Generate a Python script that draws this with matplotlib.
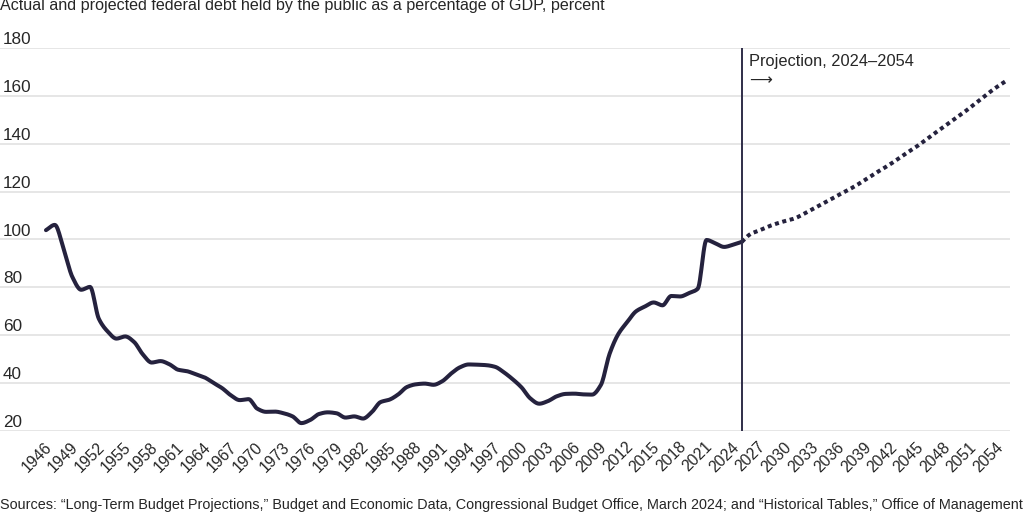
import numpy as np
import matplotlib
matplotlib.use("Agg")
import matplotlib.pyplot as plt
import matplotlib.transforms as mtransforms

plt.rcParams['font.family'] = ['Liberation Sans', 'DejaVu Sans']

# ---------------- data ----------------
hist_years = list(range(1945, 2025))
hist_debt = [103.9, 106.1, 96.2, 84.3, 79.0, 80.2, 66.9, 61.6, 58.6, 59.5,
             57.2, 52.0, 48.6, 49.2, 47.9, 45.6, 45.0, 43.7, 42.4, 40.1,
             37.9, 34.9, 32.9, 33.3, 29.3, 28.0, 28.1, 27.4, 26.1, 23.3,
             24.6, 27.1, 27.8, 27.4, 25.6, 26.1, 25.2, 27.9, 32.1, 33.1,
             35.3, 38.4, 39.5, 39.8, 39.3, 40.8, 44.0, 46.6, 47.8, 47.7,
             47.5, 46.8, 44.5, 41.6, 38.2, 33.6, 31.4, 32.5, 34.5, 35.5,
             35.6, 35.3, 35.2, 39.2, 52.3, 60.6, 65.5, 70.0, 72.0, 73.7,
             72.5, 76.4, 76.2, 77.6, 79.4, 99.8, 98.4, 96.9, 97.8, 99.0]

proj_years = list(range(2024, 2055))
proj_debt = [99.0, 102.3, 103.8, 105.4, 106.7, 107.8, 108.8, 110.6, 112.6, 114.6,
             116.5, 118.6, 120.5, 122.6, 124.9, 127.3, 129.5, 131.8, 134.3, 136.8,
             139.2, 141.9, 144.6, 147.2, 149.9, 152.5, 155.3, 158.2, 161.1, 163.8,
             166.2]

ytick_values = [20, 40, 60, 80, 100, 120, 140, 160, 180]
xtick_years = list(range(1946, 2055, 3))
projection_start = 2024

subtitle = "Actual and projected federal debt held by the public as a percentage of GDP, percent"
annotation = "Projection, 2024\u20132054"
arrow_text = "\u27f6"
source = ("Sources: \u201cLong-Term Budget Projections,\u201d Budget and Economic Data, "
          "Congressional Budget Office, March 2024; and \u201cHistorical Tables,\u201d "
          "Office of Management")


# monotone cubic (Fritsch-Carlson) smoothing, like d3.curveMonotoneX
def monotone(x, y, n=12):
    x = np.asarray(x, float)
    y = np.asarray(y, float)
    h = np.diff(x)
    d = np.diff(y) / h
    m = np.zeros_like(y)
    m[0] = d[0]
    m[-1] = d[-1]
    for i in range(1, len(y) - 1):
        if d[i - 1] * d[i] <= 0:
            m[i] = 0.0
        else:
            w1 = 2 * h[i] + h[i - 1]
            w2 = h[i] + 2 * h[i - 1]
            m[i] = (w1 + w2) / (w1 / d[i - 1] + w2 / d[i])
    xs, ys = [], []
    for i in range(len(x) - 1):
        t = np.linspace(0, 1, n, endpoint=False)
        h00 = 2 * t**3 - 3 * t**2 + 1
        h10 = t**3 - 2 * t**2 + t
        h01 = -2 * t**3 + 3 * t**2
        h11 = t**3 - t**2
        xs.append(x[i] + t * h[i])
        ys.append(h00 * y[i] + h10 * h[i] * m[i] + h01 * y[i + 1] + h11 * h[i] * m[i + 1])
    xs.append([x[-1]])
    ys.append([y[-1]])
    return np.concatenate(xs), np.concatenate(ys)


line_color = '#25223e'
text_color = '#262626'

fig = plt.figure(figsize=(10.24, 5.12), dpi=100)
ax = fig.add_axes([0, 1 - 431 / 512, 1010 / 1024, (431 - 48) / 512])

ax.set_xlim(1939.78, 2054.46)
ax.set_ylim(20, 180)

for s in ax.spines.values():
    s.set_visible(False)

ax.set_yticks(ytick_values)
ax.yaxis.grid(True, color='#e4e4e4', linewidth=1.3)
ax.set_axisbelow(True)
ax.tick_params(axis='y', left=False, labelleft=False)

# y labels sitting above the gridlines, inside the plot
off = mtransforms.ScaledTranslation(3 / 100, 4 / 100, fig.dpi_scale_trans)
ytrans = ax.get_yaxis_transform() + off
for v in ytick_values:
    ax.text(0, v, str(v), transform=ytrans, ha='left', va='baseline',
            fontsize=12.3, color=text_color)

ax.set_xticks(xtick_years)
ax.set_xticklabels([str(y) for y in xtick_years])
ax.tick_params(axis='x', length=0, pad=6.0, labelsize=11.3, labelcolor=text_color)
for lab in ax.get_xticklabels():
    lab.set_rotation(45)
    lab.set_ha('right')

# historical line
hx, hy = monotone(hist_years, hist_debt)
ax.plot(hx, hy, color=line_color, linewidth=2.9, solid_capstyle='round',
        solid_joinstyle='round', zorder=3)

# projection line (dotted)
px, py = monotone(proj_years, proj_debt)
ax.plot(px, py, color=line_color, linewidth=2.9, linestyle=(0, (1, 0.9)),
        dash_capstyle='butt', zorder=3)

# projection marker line
ax.axvline(projection_start, color='#2f2d48', linewidth=1.4, zorder=4)
ax.annotate(annotation, xy=(projection_start, 180), xycoords='data',
            xytext=(5.5, -4), textcoords='offset points', ha='left', va='top',
            fontsize=11.8, color=text_color)
ax.annotate(arrow_text, xy=(projection_start, 180), xycoords='data',
            xytext=(5.3, -23.5), textcoords='offset points', ha='left', va='center',
            fontsize=11.5, color=text_color, family='DejaVu Sans')

fig.text(0, 1 - 10 / 512, subtitle, ha='left', va='baseline', fontsize=11.6,
         color=text_color)
fig.text(0, 3 / 512, source, ha='left', va='baseline', fontsize=10.4,
         color=text_color)

fig.savefig('out.png', dpi=100)
